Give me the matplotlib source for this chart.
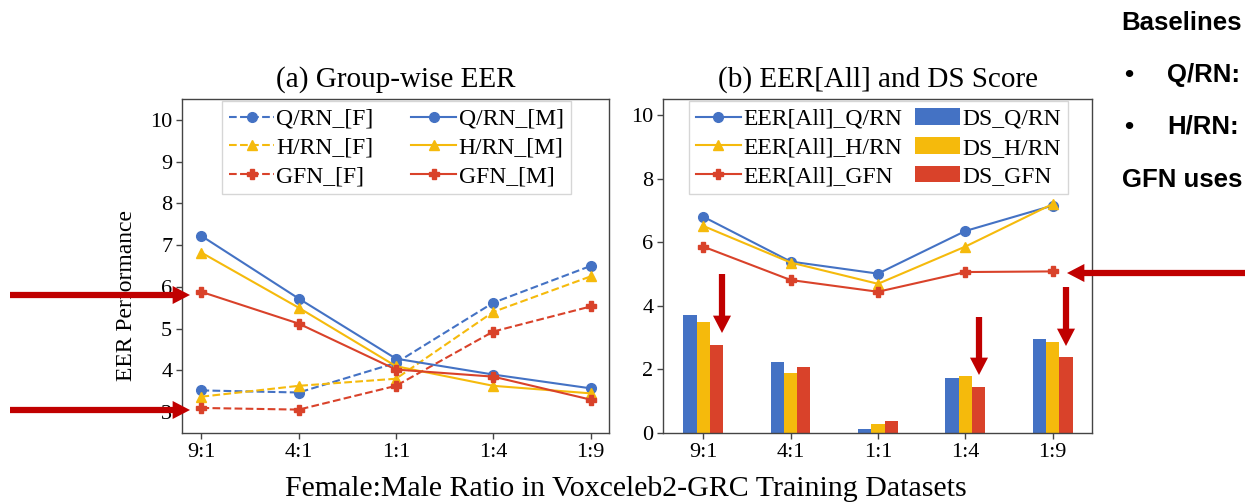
import matplotlib
matplotlib.use("Agg")
import matplotlib.pyplot as plt
import numpy as np

# ---- data ----
ratios = ["9:1", "4:1", "1:1", "1:4", "1:9"]

# (a) group-wise EER (female / male test groups)
qrn_f = [3.52, 3.47, 4.18, 5.62, 6.50]
qrn_m = [7.22, 5.72, 4.28, 3.90, 3.57]
hrn_f = [3.37, 3.63, 3.80, 5.40, 6.25]
hrn_m = [6.82, 5.50, 4.10, 3.63, 3.45]
gfn_f = [3.10, 3.06, 3.63, 4.93, 5.53]
gfn_m = [5.88, 5.12, 4.02, 3.85, 3.30]

# (b) overall EER and DS score
eer_all_qrn = [6.80, 5.39, 5.01, 6.35, 7.15]
eer_all_hrn = [6.51, 5.36, 4.69, 5.86, 7.20]
eer_all_gfn = [5.86, 4.81, 4.44, 5.06, 5.08]
ds_qrn = [3.71, 2.23, 0.13, 1.73, 2.95]
ds_hrn = [3.49, 1.89, 0.29, 1.80, 2.86]
ds_gfn = [2.77, 2.08, 0.38, 1.45, 2.40]

BLUE = "#4472C4"
YELLOW = "#F5BA0C"
RED = "#D9422A"
ARROW = "#C00000"
SPINE = "#444444"

plt.rcParams["font.family"] = ["Liberation Serif", "DejaVu Serif"]

fig = plt.figure(figsize=(12.45, 5.04), dpi=100)
W, H = 1245, 504

def px_axes(x0, y0, x1, y1):
    return fig.add_axes([x0 / W, 1 - y1 / H, (x1 - x0) / W, (y1 - y0) / H])

ax1 = px_axes(182, 99, 609, 433)
ax2 = px_axes(663, 99, 1092, 433)

x = np.arange(len(ratios))
lw = 1.5
ms = 7
LEG_FS = 17
TICK_FS = 16
TITLE_FS = 21

leg_kw = dict(loc="upper center", ncol=2, fontsize=LEG_FS, frameon=True,
              fancybox=False, edgecolor="#cccccc", handlelength=1.9,
              labelspacing=0.3, borderpad=0.3, handletextpad=0.1,
              borderaxespad=0.1, bbox_to_anchor=(0.502, 1.0))

# ---- (a) ----
ax1.plot(x, qrn_f, "--", color=BLUE, marker="o", lw=lw, ms=ms, label="Q/RN_[F]")
ax1.plot(x, hrn_f, "--", color=YELLOW, marker="^", lw=lw, ms=ms, label="H/RN_[F]")
ax1.plot(x, gfn_f, "--", color=RED, marker="P", lw=lw, ms=ms, label="GFN_[F]")
ax1.plot(x, qrn_m, "-", color=BLUE, marker="o", lw=lw, ms=ms, label="Q/RN_[M]")
ax1.plot(x, hrn_m, "-", color=YELLOW, marker="^", lw=lw, ms=ms, label="H/RN_[M]")
ax1.plot(x, gfn_m, "-", color=RED, marker="P", lw=lw, ms=ms, label="GFN_[M]")
ax1.set_xlim(-0.2, 4.19)
ax1.set_ylim(2.5, 10.5)
ax1.set_yticks(range(3, 11))
ax1.set_xticks(x)
ax1.set_xticklabels(ratios)
ax1.set_title("(a) Group-wise EER", fontsize=TITLE_FS, pad=9)
ax1.set_ylabel("EER Performance", fontsize=17)
ax1.yaxis.set_label_coords(-0.106, 0.413)
ax1.legend(columnspacing=1.6, **leg_kw)

# ---- (b) ----
bw = 0.152
ax2.bar(x - bw, ds_qrn, bw, color=BLUE, label="DS_Q/RN", zorder=2)
ax2.bar(x, ds_hrn, bw, color=YELLOW, label="DS_H/RN", zorder=2)
ax2.bar(x + bw, ds_gfn, bw, color=RED, label="DS_GFN", zorder=2)
ax2.plot(x, eer_all_qrn, "-", color=BLUE, marker="o", lw=lw, ms=ms, label="EER[All]_Q/RN", zorder=3)
ax2.plot(x, eer_all_hrn, "-", color=YELLOW, marker="^", lw=lw, ms=ms, label="EER[All]_H/RN", zorder=3)
ax2.plot(x, eer_all_gfn, "-", color=RED, marker="P", lw=lw, ms=ms, label="EER[All]_GFN", zorder=3)
ax2.set_xlim(-0.46, 4.45)
ax2.set_ylim(0, 10.5)
ax2.set_yticks(range(0, 11, 2))
ax2.set_xticks(x)
ax2.set_xticklabels(ratios)
ax2.set_title("(b) EER[All] and DS Score", fontsize=TITLE_FS, pad=9)
ax2.legend(columnspacing=0.55, **leg_kw)

for ax in (ax1, ax2):
    for s in ax.spines.values():
        s.set_color(SPINE)
        s.set_linewidth(1.0)
    ax.tick_params(labelsize=TICK_FS, direction="out", length=4, width=1, color=SPINE, pad=3)

fig.text(626 / W, 1 - 489 / H, "Female:Male Ratio in Voxceleb2-GRC Training Datasets",
         fontsize=21.5, ha="center", va="center")

# ---- emphasis arrows, drawn on a pixel-space overlay ----
ax_overlay = fig.add_axes([0, 0, 1, 1], zorder=10)
ax_overlay.set_xlim(0, W)
ax_overlay.set_ylim(H, 0)
ax_overlay.axis("off")
ax_overlay.patch.set_alpha(0)

def arrow(x0, y0, x1, y1):
    ax_overlay.annotate("", xy=(x1, y1), xytext=(x0, y0),
                        arrowprops=dict(arrowstyle="simple,head_length=1.25,head_width=1.3,tail_width=0.45",
                                        mutation_scale=10, color=ARROW, lw=0,
                                        shrinkA=0, shrinkB=0))

arrow(10, 295, 190, 295)
arrow(10, 410, 190, 410)
arrow(1260, 273, 1067, 273)
arrow(722, 274, 722, 333)
arrow(979, 317, 979, 375)
arrow(1066, 287, 1066, 346)

# ---- side notes ----
sans = ["Liberation Sans", "DejaVu Sans"]
NOTE_FS = 18.5
fig.text(1121 / W, 1 - 23 / H, "Baselines", family=sans, weight="bold", fontsize=NOTE_FS, va="center")
fig.text(1124 / W, 1 - 75 / H, "\u2022", family=sans, weight="bold", fontsize=NOTE_FS, va="center")
fig.text(1167 / W, 1 - 75 / H, "Q/RN:", family=sans, weight="bold", fontsize=NOTE_FS, va="center")
fig.text(1124 / W, 1 - 127 / H, "\u2022", family=sans, weight="bold", fontsize=NOTE_FS, va="center")
fig.text(1167 / W, 1 - 127 / H, "H/RN:", family=sans, weight="bold", fontsize=NOTE_FS, va="center")
fig.text(1122 / W, 1 - 180 / H, "GFN uses", family=sans, weight="bold", fontsize=NOTE_FS, va="center")

fig.savefig("out.png", dpi=100)
